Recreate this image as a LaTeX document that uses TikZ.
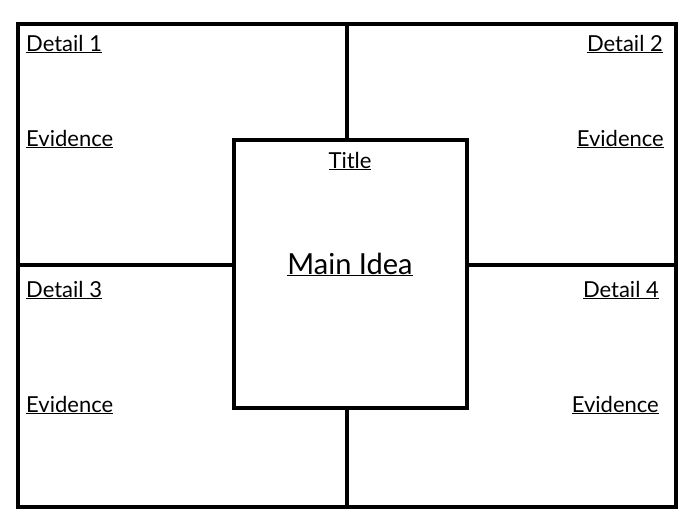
\documentclass[tikz,border=0pt]{standalone}
\usepackage{fontspec}
\setmainfont{Lato}
\begin{document}
\begin{tikzpicture}[x=1pt,y=-1pt,
  frame/.style={line width=4pt,draw=black},
  lbl/.style={inner sep=0pt,font=\fontsize{22}{24}\selectfont},
  big/.style={inner sep=0pt,font=\fontsize{29}{32}\selectfont}]
\useasboundingbox[fill=white] (0,0) rectangle (700,525);
\draw[frame] (17.5,24) rectangle (676,507);
\coordinate (top) at (347,24);
\coordinate (bot) at (347,507);
\coordinate (lft) at (17.5,265);
\coordinate (rgt) at (676,265);
\node[frame,fill=white,minimum width=233pt,minimum height=268pt,inner sep=0pt] (main) at (350.5,274) {};
\draw[frame] (top) -- (main.north -| top);
\draw[frame] (main.south -| bot) -- (bot);
\draw[frame] (lft) -- (main.west |- lft);
\draw[frame] (main.east |- rgt) -- (rgt);
\node[lbl,anchor=base west] (d1) at (26,51) {\underline{Detail 1}};
\node[lbl,anchor=base east] (d2) at (663,51) {\underline{Detail 2}};
\node[lbl,anchor=base west] (d3) at (26,297) {\underline{Detail 3}};
\node[lbl,anchor=base east] (d4) at (659,297) {\underline{Detail 4}};
\node[lbl,anchor=base west] (e1) at (26,146) {\underline{Evidence}};
\node[lbl,anchor=base east] (e2) at (664,146) {\underline{Evidence}};
\node[lbl,anchor=base west] (e3) at (26,412) {\underline{Evidence}};
\node[lbl,anchor=base east] (e4) at (659,412) {\underline{Evidence}};
\node[lbl,anchor=base] (title) at (350,168) {\underline{Title}};
\node[big,anchor=base] (idea) at (350,274) {\underline{Main Idea}};
\end{tikzpicture}
\end{document}
